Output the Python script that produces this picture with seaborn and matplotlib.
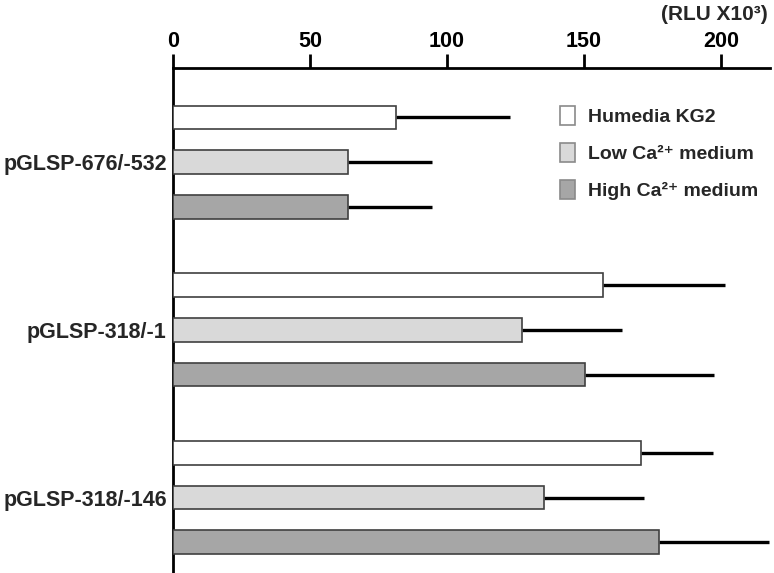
import pandas as pd
import matplotlib
matplotlib.use("Agg")
import matplotlib.pyplot as plt
import seaborn as sns
from matplotlib.patches import Patch

# Datos (RLU x10^3)
constructs = ["pGLSP-676/-532", "pGLSP-318/-1", "pGLSP-318/-146"]
media = ["Humedia KG2", "Low Ca²⁺ medium", "High Ca²⁺ medium"]
humedia = [81.5, 157.0, 171.0]
low_ca = [64.0, 127.5, 135.5]
high_ca = [64.0, 150.5, 177.5]
err_humedia = [41.5, 44.5, 26.0]
err_low = [30.5, 36.5, 36.5]
err_high = [30.5, 47.0, 40.0]
x_ticks = [0, 50, 100, 150, 200]

values = [humedia, low_ca, high_ca]
errors = [err_humedia, err_low, err_high]
colores = ["#ffffff", "#d9d9d9", "#a6a6a6"]

rows = []
for m, vals in zip(media, values):
    for c, v in zip(constructs, vals):
        rows.append({"construct": c, "medium": m, "value": v})
df = pd.DataFrame(rows)

sns.set_style("white")
plt.rcParams['font.family'] = ['Liberation Sans', 'DejaVu Sans']
plt.rcParams['font.weight'] = 'bold'

fig = plt.figure(figsize=(7.74, 5.73), dpi=100)
ax = fig.add_axes([0.2235, 0.0, 0.7715, 0.881])

sns.barplot(data=df, x="value", y="construct", hue="medium", orient="h",
            palette=colores, width=0.8, gap=0.47, edgecolor="#404040",
            linewidth=1.2, errorbar=None, legend=False, ax=ax, zorder=3)

# Barras de error (solo hacia la derecha)
for cont, errs in zip(ax.containers, errors):
    for bar, e in zip(cont, errs):
        y = bar.get_y() + bar.get_height() / 2
        ax.errorbar(bar.get_width(), y, xerr=[[0], [e]], fmt="none",
                    ecolor="black", elinewidth=2.4, capsize=0, zorder=2)

ax.set_xlim(0, 218)
ax.set_ylim(2.45, -0.56)
ax.xaxis.tick_top()
ax.set_xticks(x_ticks)
ax.tick_params(axis="x", direction="out", length=10, width=2, pad=2,
               labelsize=15.5, top=True, bottom=False, colors="black")
ax.tick_params(axis="y", length=0, pad=4.5, labelsize=15.5)
for lab in ax.get_xticklabels() + ax.get_yticklabels():
    lab.set_fontweight("bold")
ax.set_xlabel("")
ax.set_ylabel("")

for s in ["right", "bottom"]:
    ax.spines[s].set_visible(False)
ax.spines["top"].set_linewidth(2)
ax.spines["left"].set_linewidth(2)
ax.spines["top"].set_color("black")
ax.spines["left"].set_color("black")

handles = [Patch(facecolor=c, edgecolor="#8a8a8a", linewidth=1.2) for c in colores]
ax.legend(handles, media, frameon=False, loc="upper left",
          bbox_to_anchor=(0.648, 0.925), borderpad=0, borderaxespad=0,
          handlelength=0.8, handleheight=1.15,
          handletextpad=0.65, labelspacing=0.85,
          prop={"weight": "bold", "size": 14})

fig.text(0.992, 0.991, "(RLU X10³)", ha="right", va="top",
         fontsize=15, fontweight="bold")

fig.savefig("out.png", dpi=100)
